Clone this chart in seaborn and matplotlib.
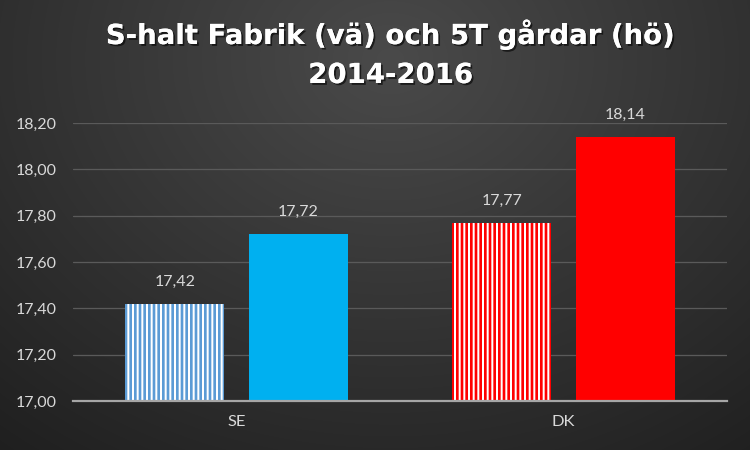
import numpy as np
import pandas as pd
import matplotlib
matplotlib.use("Agg")
import matplotlib.pyplot as plt
import matplotlib.patheffects as pe
import seaborn as sns

# Data
categories = ["SE", "SE", "DK", "DK"]
series = ["Fabrik", "5T gårdar", "Fabrik", "5T gårdar"]
values = [17.42, 17.72, 17.77, 18.14]
yticks = [17.00, 17.20, 17.40, 17.60, 17.80, 18.00, 18.20]
title_line1 = "S-halt Fabrik (vä) och 5T gårdar (hö)"
title_line2 = "2014-2016"

bar_colors = ["#5B9BD5", "#00B0F0", "#FF0000", "#FF0000"]
hatched = [True, False, True, False]

DPI = 112
W, H = 750, 450


def pt(px):
    return px * 72.0 / DPI


sns.set_theme(style="dark")
plt.rcParams["font.family"] = ["Lato", "DejaVu Sans"]
plt.rcParams["hatch.linewidth"] = pt(2.0)

df = pd.DataFrame({"cat": categories, "series": series, "value": values})

fig = plt.figure(figsize=(W / DPI, H / DPI), dpi=DPI)

# background radial gradient
bg = fig.add_axes([0, 0, 1, 1], zorder=-10)
yy, xx = np.mgrid[0:H, 0:W]
r = np.sqrt(((xx - 390) / 520.0) ** 2 + ((yy - 60) / 420.0) ** 2)
lum = 0.29 - 0.14 * np.clip(r, 0, 1.2)
bg.imshow(np.dstack([lum, lum, lum]), aspect="auto", extent=[0, 1, 0, 1])
bg.axis("off")

ax = fig.add_axes([73 / W, 1 - 401 / H, 654 / W, 278 / H])
ax.set_facecolor("none")
sns.barplot(data=df, x="cat", y="value", hue="series", ax=ax,
            width=0.755, gap=0.2, legend=False, palette=["#5B9BD5", "#00B0F0"])

bars_sorted = sorted(ax.patches, key=lambda p: p.get_x())
for p, c, h in zip(bars_sorted, bar_colors, hatched):
    p.set_facecolor(c)
    p.set_linewidth(0)
    if h:
        p.set_edgecolor("white")
        p.set_hatch("||||")
    else:
        p.set_edgecolor(c)

for p, v in zip(bars_sorted, values):
    ax.annotate(f"{v:.2f}".replace(".", ","), (p.get_x() + p.get_width() / 2, v),
                xytext=(0, pt(15)), textcoords="offset points",
                ha="center", va="bottom", color="#D9D9D9", fontsize=pt(16))

ax.set_ylim(17.0, 18.2)
ax.set_yticks(yticks)
ax.set_yticklabels([f"{t:.2f}".replace(".", ",") for t in yticks], color="#D9D9D9", fontsize=pt(16))
ax.tick_params(axis="x", colors="#D9D9D9", labelsize=pt(16.5), pad=pt(14), length=0)
ax.tick_params(axis="y", length=0, pad=pt(16))
for lab in ax.get_xticklabels():
    lab.set_color("#D9D9D9")
ax.set_xlabel("")
ax.set_ylabel("")
ax.grid(axis="y", color="#5A5A5A", linewidth=pt(1.3))
ax.grid(axis="x", visible=False)
for s in ["top", "right", "left"]:
    ax.spines[s].set_visible(False)
ax.spines["bottom"].set_color("#A6A6A6")
ax.spines["bottom"].set_linewidth(pt(2.2))
ax.set_axisbelow(True)

shadow = [pe.withSimplePatchShadow(offset=(1.2, -1.2), shadow_rgbFace="black", alpha=0.6), pe.Normal()]
tfam = ["DejaVu Sans"]
t1 = fig.text(391 / W, 1 - 44 / H, title_line1, ha="center", va="baseline", color="white",
              fontsize=pt(26), fontweight="bold", family=tfam, path_effects=shadow)
# fit title width to ~568 px
renderer = fig.canvas.get_renderer()
wpx = t1.get_window_extent(renderer).width
fs = pt(26) * 568.0 / wpx
t1.set_fontsize(fs)
fig.text(391 / W, 1 - 83 / H, title_line2, ha="center", va="baseline", color="white",
         fontsize=fs, fontweight="bold", family=tfam, path_effects=shadow)

fig.savefig("out.png", dpi=DPI)
